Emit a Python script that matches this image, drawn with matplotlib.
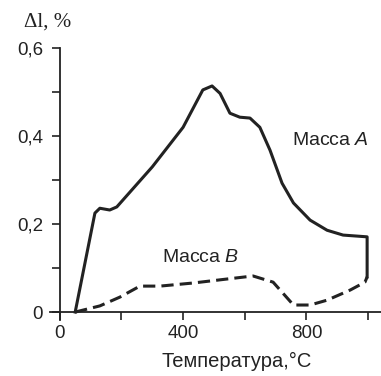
import matplotlib.pyplot as plt
from matplotlib.ticker import FuncFormatter, MultipleLocator

plt.rcParams["mathtext.fontset"] = "custom"
plt.rcParams["mathtext.it"] = "Liberation Sans:italic"
plt.rcParams["mathtext.rm"] = "Liberation Sans"

# Масса A (solid)
temp_a = [50, 114, 130, 162, 185, 300, 400, 464, 494, 520, 552, 584, 617, 649,
          682, 721, 758, 812, 867, 919, 997, 997]
dl_a = [0.0, 0.225, 0.236, 0.232, 0.239, 0.33, 0.42, 0.505, 0.514, 0.497, 0.452,
        0.443, 0.441, 0.42, 0.368, 0.293, 0.248, 0.209, 0.186, 0.175, 0.171, 0.08]

# Масса B (dashed)
temp_b = [50, 130, 195, 260, 325, 432, 541, 627, 692, 758, 812, 867, 942, 990, 997]
dl_b = [0.0, 0.014, 0.034, 0.059, 0.059, 0.066, 0.075, 0.082, 0.068, 0.016,
        0.016, 0.027, 0.05, 0.068, 0.08]

x_ticks = [0, 200, 400, 600, 800, 1000]
x_labels = ["0", "", "400", "", "800", ""]
y_ticks = [0, 0.2, 0.4, 0.6]

ink = "#222222"
sans = ["Liberation Sans", "DejaVu Sans"]

fig = plt.figure(figsize=(3.81, 3.76), dpi=100)
ax = fig.add_axes([0.131, 0.149, 0.869, 0.723])

ax.plot(temp_a, dl_a, color=ink, lw=2.2, solid_joinstyle="round")
ax.plot(temp_b, dl_b, color=ink, lw=2.2, linestyle=(0, (4, 2)))

ax.set_xlim(-32, 1042)
ax.set_ylim(-0.018, 0.6)

for s in ["top", "right"]:
    ax.spines[s].set_visible(False)
ax.spines["left"].set_position(("data", 0))
ax.spines["bottom"].set_position(("data", 0))
ax.spines["left"].set_bounds(-0.018, 0.6)
for s in ["left", "bottom"]:
    ax.spines[s].set_color(ink)
    ax.spines[s].set_linewidth(1.3)

ax.set_xticks(x_ticks)
ax.set_xticklabels(x_labels)
ax.set_yticks(y_ticks)
ax.yaxis.set_minor_locator(MultipleLocator(0.1))
ax.yaxis.set_major_formatter(FuncFormatter(lambda v, p: "0" if v == 0 else f"{v:.1f}".replace(".", ",")))
ax.tick_params(direction="out", length=6, width=1.2, color=ink, labelcolor=ink,
               labelsize=13.5, pad=3)
ax.tick_params(axis="y", which="minor", direction="out", length=6, width=1.2, color=ink)
ax.tick_params(axis="y", pad=6)
for lab in ax.get_xticklabels() + ax.get_yticklabels():
    lab.set_family(sans)

fig.text(237 / 381, 1 - 361 / 376, "Температура,°C", ha="center", va="center",
         fontsize=14.5, color=ink, family=sans)
fig.text(48 / 381, 1 - 22 / 376, "Δl, %", ha="center", va="center", fontsize=15,
         color=ink, family=["Liberation Serif", "DejaVu Serif"])

ax.text(752, 0.39, r"Масса $\it{A}$", ha="left", va="center", fontsize=14,
        color=ink, family=sans)
ax.text(332, 0.125, r"Масса $\it{B}$", ha="left", va="center", fontsize=14,
        color=ink, family=sans)

fig.savefig("out.png", dpi=100)
